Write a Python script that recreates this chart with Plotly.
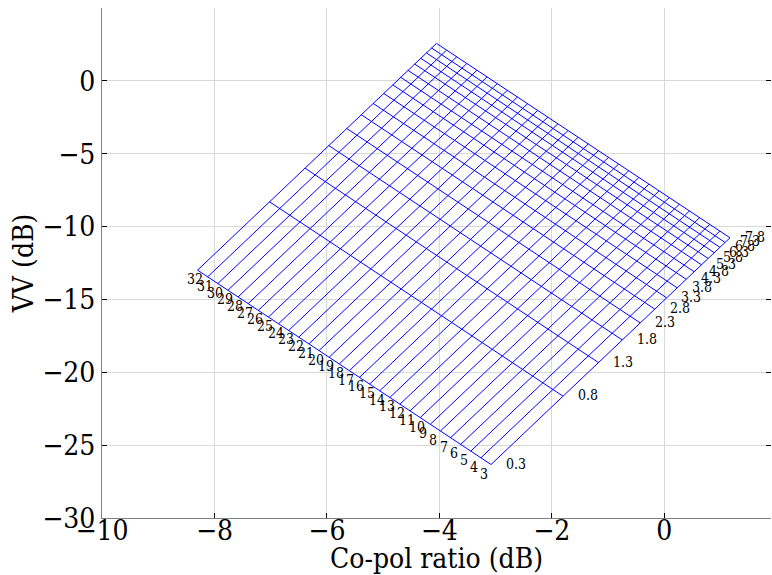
import plotly.graph_objects as go

# Labels of the two line families
eps_labels = [str(v) for v in range(3, 33)]
ks_labels = ["0.3", "0.8", "1.3", "1.8", "2.3", "2.8", "3.3", "3.8",
             "4.3", "4.8", "5.3", "5.8", "6.3", "6.8", "7.3", "7.8"]

# Position of each constant-eps line where it meets the ks=0.3 edge
eps_copol = [-3.08, -3.26, -3.44, -3.62, -3.80, -3.98, -4.16, -4.34, -4.52, -4.70,
             -4.88, -5.06, -5.24, -5.42, -5.60, -5.78, -5.96, -6.14, -6.32, -6.50,
             -6.68, -6.86, -7.04, -7.22, -7.40, -7.58, -7.76, -7.94, -8.12, -8.30]
eps_vv = [-26.33, -25.87, -25.41, -24.95, -24.49, -24.03, -23.57, -23.11, -22.65, -22.19,
          -21.73, -21.27, -20.81, -20.35, -19.89, -19.43, -18.97, -18.51, -18.05, -17.59,
          -17.13, -16.67, -16.21, -15.75, -15.29, -14.83, -14.37, -13.91, -13.45, -12.99]

# Position of each constant-ks line where it meets the eps=3 edge
ks_copol = [-3.08, -1.80, -1.17, -0.75, -0.43, -0.17, 0.04, 0.23,
            0.39, 0.53, 0.66, 0.78, 0.89, 0.99, 1.08, 1.17]
ks_vv = [-26.33, -21.64, -19.33, -17.77, -16.60, -15.66, -14.88, -14.20,
         -13.61, -13.09, -12.61, -12.18, -11.79, -11.42, -11.08, -10.77]

x_ticks = [-10, -8, -6, -4, -2, 0]
y_ticks = [-30, -25, -20, -15, -10, -5, 0]

FONT = "DejaVu Serif Condensed, DejaVu Serif, serif"
BLUE = "#0000ff"

c0, v0 = ks_copol[0], ks_vv[0]


def node(i, j):
    return eps_copol[i] + ks_copol[j] - c0, eps_vv[i] + ks_vv[j] - v0


xs, ys = [], []
for i in range(len(eps_labels)):
    for j in range(len(ks_labels)):
        x, y = node(i, j)
        xs.append(x); ys.append(y)
    xs.append(None); ys.append(None)
for j in range(len(ks_labels)):
    for i in range(len(eps_labels)):
        x, y = node(i, j)
        xs.append(x); ys.append(y)
    xs.append(None); ys.append(None)

fig = go.Figure()
fig.add_trace(go.Scatter(x=xs, y=ys, mode="lines",
                         line=dict(color=BLUE, width=1), hoverinfo="skip"))
# invisible trace on right axis so its ticks render
fig.add_trace(go.Scatter(x=[None], y=[None], yaxis="y2", showlegend=False))

annotations = []
for i, lab in enumerate(eps_labels):
    x, y = node(i, 0)
    annotations.append(dict(x=x, y=y, text=lab, showarrow=False,
                            xanchor="left", yanchor="middle", xshift=-13, yshift=-9,
                            font=dict(family=FONT, size=14, color="black")))
for j, lab in enumerate(ks_labels):
    x, y = node(0, j)
    annotations.append(dict(x=x, y=y, text=lab, showarrow=False,
                            xanchor="left", yanchor="middle", xshift=13, yshift=1,
                            font=dict(family=FONT, size=14, color="black")))

axis_common = dict(
    ticks="inside", ticklen=5, tickwidth=1, tickcolor="black",
    showline=True, linecolor="#808080", linewidth=1,
    showgrid=True, gridcolor="#d9d9d9", gridwidth=1, zeroline=False,
    tickfont=dict(family=FONT, size=28, color="black"),
)

fig.update_layout(
    width=772, height=575,
    margin=dict(l=102, r=1, t=8, b=57),
    plot_bgcolor="white", paper_bgcolor="white",
    showlegend=False,
    font=dict(family=FONT, color="black"),
    annotations=annotations,
    xaxis=dict(range=[-10, 1.9], tickvals=x_ticks, ticklabelstandoff=-13,
               title=dict(text="Co-pol ratio (dB)", font=dict(family=FONT, size=28), standoff=3),
               **axis_common),
    yaxis=dict(range=[-30, 5], tickvals=y_ticks,
               title=dict(text="VV (dB)", font=dict(family=FONT, size=28), standoff=0),
               **axis_common),
    yaxis2=dict(range=[-30, 5], tickvals=y_ticks, overlaying="y", side="right",
                ticks="inside", ticklen=5, tickcolor="black", showticklabels=False,
                showgrid=False, showline=False, zeroline=False),
)

fig.write_html("out.html")
